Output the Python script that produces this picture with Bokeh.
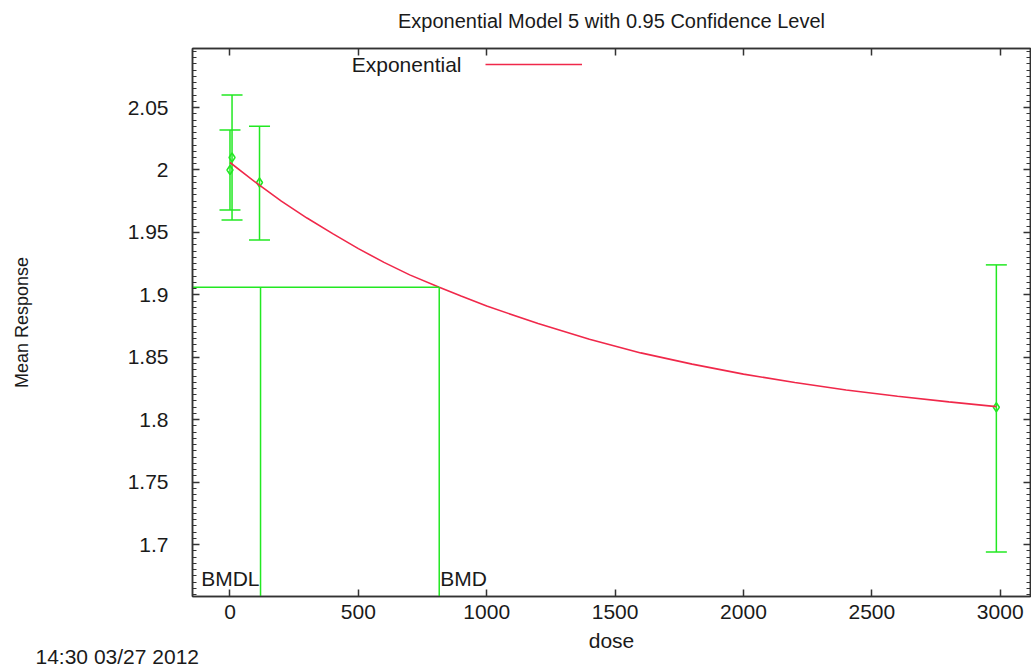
from bokeh.plotting import figure
from bokeh.models import (Range1d, FixedTicker, LinearAxis, Label, Legend, LegendItem,
                          Whisker, ColumnDataSource, TeeHead, Title)
from bokeh.embed import file_html
from bokeh.resources import INLINE
from bokeh.core.properties import value

# ---------------- data ----------------
title_text = "Exponential Model 5 with 0.95 Confidence Level"
x_label = "dose"
y_label = "Mean Response"
timestamp = "14:30 03/27 2012"
legend_label = "Exponential"

obs_dose = [0, 8, 115, 2985]
obs_mean = [2.0, 2.01, 1.99, 1.81]
obs_lower = [1.968, 1.96, 1.944, 1.694]
obs_upper = [2.032, 2.06, 2.035, 1.924]

fit_dose = [0, 100, 200, 300, 400, 500, 600, 700, 815, 900, 1000, 1200, 1400, 1600,
            1800, 2000, 2200, 2400, 2600, 2800, 2985]
fit_response = [2.006, 1.990, 1.975, 1.9615, 1.949, 1.937, 1.926, 1.916, 1.906, 1.899,
                1.891, 1.877, 1.8645, 1.8535, 1.8445, 1.8365, 1.8298, 1.8238, 1.8188,
                1.8143, 1.8105]

bmdl = 119
bmd = 815
bmr_response = 1.906

x_ticks = [0, 500, 1000, 1500, 2000, 2500, 3000]
x_tick_labels = ["0", "500", "1000", "1500", "2000", "2500", "3000"]
y_ticks = [1.7, 1.75, 1.8, 1.85, 1.9, 1.95, 2.0, 2.05]
y_tick_labels = ["1.7", "1.75", "1.8", "1.85", "1.9", "1.95", "2", "2.05"]

x_lim = (-146, 3118)
y_lim = (1.6584, 2.0973)

# ---------------- style ----------------
FONT = "Liberation Sans"
GREEN = "#22e822"
RED = "#f0284a"
FRAME = "#333333"
TXT = "#1a1a1a"
FS = "21px"

y_minor = [round(1.655 + i * 0.005, 3) for i in range(0, 90)]

p = figure(width=1031, height=667, x_range=Range1d(*x_lim), y_range=Range1d(*y_lim),
           output_backend="svg", toolbar_location=None,
           min_border_left=192, min_border_right=1, min_border_top=48, min_border_bottom=71,
           background_fill_color="white", border_fill_color="white")
p.xgrid.visible = False
p.ygrid.visible = False
p.outline_line_color = FRAME
p.outline_line_width = 1.5


def style_axis(ax, ticks, minor, labels, show):
    ax.ticker = FixedTicker(ticks=ticks, minor_ticks=minor)
    ax.axis_line_color = FRAME
    ax.axis_line_width = 1.5
    ax.major_tick_line_color = FRAME
    ax.major_tick_line_width = 1.5
    ax.minor_tick_line_color = FRAME
    ax.minor_tick_line_width = 1.2
    ax.major_tick_in = 7
    ax.major_tick_out = 0
    ax.minor_tick_in = 4
    ax.minor_tick_out = 0
    ax.major_label_text_font = FONT
    ax.major_label_text_color = TXT
    ax.axis_label_text_font = FONT
    ax.axis_label_text_font_style = "normal"
    ax.axis_label_text_color = TXT
    ax.axis_label_text_font_size = FS
    if show:
        ax.major_label_overrides = {t: l for t, l in zip(ticks, labels)}
        ax.major_label_text_font_size = FS
    else:
        # mirror axis: ticks only, no tick labels
        ax.major_label_overrides = {t: "" for t in ticks}
        ax.major_label_text_font_size = "0px"
        ax.major_label_standoff = 0


xb = p.xaxis[0]
style_axis(xb, x_ticks, [], x_tick_labels, True)
xb.major_label_standoff = 8
xb.axis_label = x_label
xb.axis_label_standoff = 7

yl = p.yaxis[0]
style_axis(yl, y_ticks, y_minor, y_tick_labels, True)
yl.major_label_standoff = 24
yl.axis_label = y_label
yl.axis_label_text_font_size = "18px"
yl.axis_label_standoff = 93

xt = LinearAxis()
style_axis(xt, x_ticks, [], x_tick_labels, False)
xt.axis_label = title_text
xt.axis_label_text_font_size = "20px"
xt.axis_label_standoff = 17
p.add_layout(xt, "above")

yr = LinearAxis()
style_axis(yr, y_ticks, y_minor, y_tick_labels, False)
p.add_layout(yr, "right")

stamp = Title(text=timestamp, align="left", offset=-157, vertical_align="top", standoff=-20,
              text_font=FONT, text_font_size=FS, text_font_style="normal", text_color=TXT)
p.add_layout(stamp, "below")

# ---------------- observations ----------------
src = ColumnDataSource(dict(dose=obs_dose, mean=obs_mean, lower=obs_lower, upper=obs_upper))
wh = Whisker(base="dose", upper="upper", lower="lower", source=src,
             line_color=GREEN, line_width=1.5,
             upper_head=TeeHead(size=21, line_color=GREEN, line_width=1.5),
             lower_head=TeeHead(size=21, line_color=GREEN, line_width=1.5))
p.add_layout(wh)
p.scatter("dose", "mean", source=src, marker="diamond", size=9,
          fill_color=None, line_color=GREEN, line_width=1.5)

# ---------------- fitted curve ----------------
curve = p.line(fit_dose, fit_response, line_color=RED, line_width=1.6)

# ---------------- BMD / BMDL lines ----------------
x0 = p.x_range.start
y0 = p.y_range.start
p.segment(x0=[x0, bmdl, bmd], y0=[bmr_response, y0, y0],
          x1=[bmd, bmdl, bmd], y1=[bmr_response, bmr_response, bmr_response],
          line_color=GREEN, line_width=1.5)
p.text(x=[bmdl], y=[y0], text=["BMDL"], text_align="right", text_baseline="middle",
       y_offset=-18, x_offset=-1, text_font=value(FONT), text_font_size=FS, text_color=TXT)
p.text(x=[bmd], y=[y0], text=["BMD"], text_align="left", text_baseline="middle",
       y_offset=-18, x_offset=1, text_font=value(FONT), text_font_size=FS, text_color=TXT)

# ---------------- legend (text then sample, as in gnuplot) ----------------
leg = Legend(items=[LegendItem(label=" ", renderers=[curve])],
             location=(293, 522), padding=0, margin=0, spacing=0,
             glyph_width=97, glyph_height=20, label_height=20, label_width=1,
             label_standoff=0, label_text_font_size="10px",
             border_line_alpha=0, background_fill_alpha=0)
p.add_layout(leg)

p.add_layout(Label(x=269, y=532, x_units="screen", y_units="screen", text=legend_label,
                   text_align="right", text_baseline="middle",
                   text_font=FONT, text_font_size=FS, text_color=TXT))

open("out.html", "w").write(file_html(p, INLINE))
